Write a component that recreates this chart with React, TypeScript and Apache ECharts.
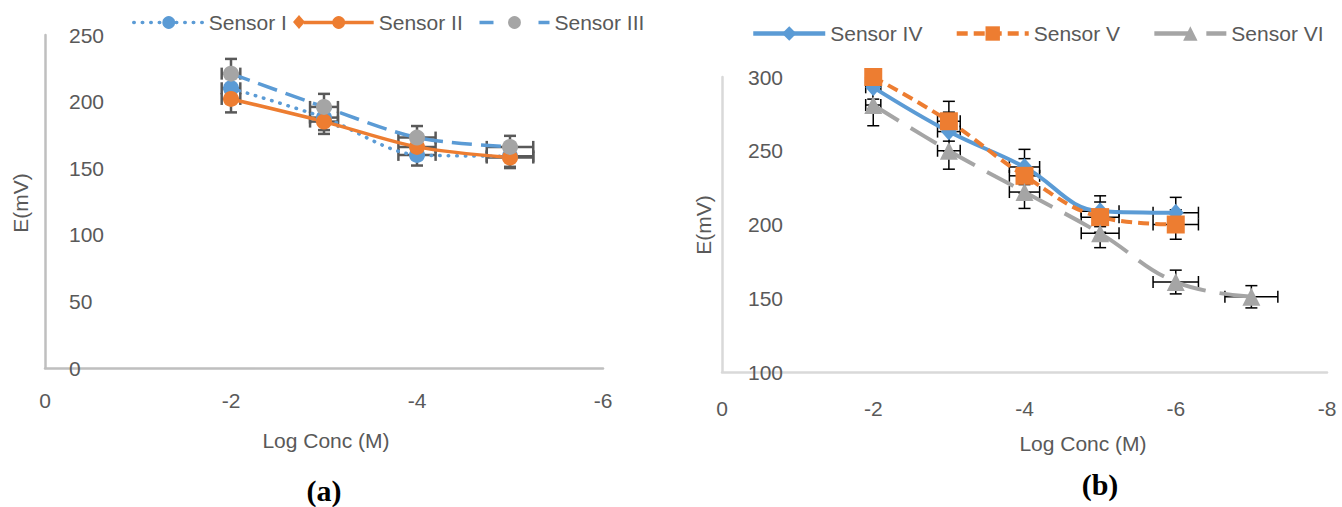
import React, { useEffect, useRef } from "react";
import * as echarts from "echarts";

// ---- Data ----
const xA = [-2, -3, -4, -5];
const sensorI = [210, 188, 160, 159];
const sensorII = [202, 185, 166, 158];
const sensorIII = [221, 196, 173, 166];

const xB = [-2, -3, -4, -5, -6];
const sensorIV = [293, 263, 239, 209, 208];
const sensorV = [300, 270, 233, 205, 200];
const xC = [-2, -3, -4, -5, -6, -7];
const sensorVI = [281, 250, 222, 194, 161, 151];

const ERR_PCT = 0.05; // percentage error bars (x and y)

const xTicksA = { min: -6, max: 0, interval: 2 };
const xTicksB = { min: -8, max: 0, interval: 2 };
const yTicksA = { min: 0, max: 250, interval: 50 };
const yTicksB = { min: 100, max: 300, interval: 50 };

const BLUE = "#5B9BD5";
const ORANGE = "#ED7D31";
const GRAY = "#A5A5A5";
const TXT = "#595959";
const FONT = "Liberation Sans";

const dotted = [0.5, 8];
const longDashA = [20, 9];
const dashV = [11, 6];
const longDashVI = [30, 14];

const pairs = (xs: number[], ys: number[]) => xs.map((x, i) => [x, ys[i]]);
const errData = (xs: number[], ys: number[]) =>
  xs.map((x, i) => [x, ys[i], Math.abs(x) * ERR_PCT, ys[i] * ERR_PCT]);

function errRender(color: string, w: number, cap: number) {
  return (params: any, api: any) => {
    const x = api.value(0), y = api.value(1), ex = api.value(2), ey = api.value(3);
    const c = api.coord([x, y]);
    const t = api.coord([x, y + ey]);
    const b = api.coord([x, y - ey]);
    const l = api.coord([x + ex, y]);
    const r = api.coord([x - ex, y]);
    const style = { stroke: color, lineWidth: w };
    const ln = (x1: number, y1: number, x2: number, y2: number) => ({
      type: "line",
      shape: { x1, y1, x2, y2 },
      style,
    });
    return {
      type: "group",
      children: [
        ln(c[0], t[1], c[0], b[1]),
        ln(c[0] - cap, t[1], c[0] + cap, t[1]),
        ln(c[0] - cap, b[1], c[0] + cap, b[1]),
        ln(l[0], c[1], r[0], c[1]),
        ln(l[0], c[1] - cap, l[0], c[1] + cap),
        ln(r[0], c[1] - cap, r[0], c[1] + cap),
      ],
    };
  };
}

function errSeries(name: string, xs: number[], ys: number[], idx: number, color: string, w: number, cap: number, clip: boolean) {
  return {
    name,
    type: "custom",
    xAxisIndex: idx,
    yAxisIndex: idx,
    data: errData(xs, ys),
    encode: { x: 0, y: 1 },
    renderItem: errRender(color, w, cap),
    clip,
    silent: true,
    z: 1,
  };
}

function xAxis(idx: number, t: any, lineColor: string, margin: number) {
  return {
    type: "value",
    gridIndex: idx,
    inverse: true,
    ...t,
    axisLine: { show: true, onZero: false, lineStyle: { color: lineColor, width: 2.5 } },
    axisTick: { show: false },
    splitLine: { show: false },
    axisLabel: { color: TXT, fontFamily: FONT, fontSize: 21, margin },
  };
}

function yAxis(idx: number, t: any, lineColor: string, margin: number) {
  return {
    type: "value",
    gridIndex: idx,
    ...t,
    axisLine: { show: true, onZero: false, lineStyle: { color: lineColor, width: 2.5 } },
    axisTick: { show: false },
    splitLine: { show: false },
    axisLabel: { inside: true, color: TXT, fontFamily: FONT, fontSize: 21, margin, align: "left" },
  };
}

export default function App() {
  const ref = useRef<HTMLDivElement>(null);
  useEffect(() => {
    if (!ref.current) return;
    const chart = echarts.init(ref.current, undefined, { renderer: "svg" });
    const textStyle = { color: TXT, fontFamily: FONT, fontSize: 21 };
    chart.setOption({
      animation: false,
      backgroundColor: "#fff",
      textStyle: { fontFamily: FONT },
      grid: [
        { left: 45, top: 35, width: 558, height: 333 },
        { left: 722, top: 77, width: 605, height: 295 },
      ],
      xAxis: [xAxis(0, xTicksA, "#BFBFBF", 22), xAxis(1, xTicksB, "#D9D9D9", 26)],
      yAxis: [yAxis(0, yTicksA, "#BFBFBF", 24), yAxis(1, yTicksB, "#D9D9D9", 26)],
      legend: [
        {
          data: [
            { name: "Sensor I", lineStyle: { width: 3.5, type: dotted, cap: "round" } },
            { name: "Sensor II", lineStyle: { width: 3.5 } },
            { name: "Sensor III", lineStyle: { width: 3.5, type: [14, 45] } },
          ],
          left: 127,
          top: 7,
          itemWidth: 70,
          itemHeight: 16,
          itemGap: 15,
          textStyle: { ...textStyle, padding: [0, 0, 0, 0] },
        },
        {
          data: [
            { name: "Sensor IV", lineStyle: { width: 4.5 } },
            { name: "Sensor V", lineStyle: { width: 4.5, type: dashV } },
            { name: "Sensor VI", lineStyle: { width: 4.5, type: [38, 14] } },
          ],
          left: 746,
          top: 18,
          itemWidth: 72,
          itemHeight: 18,
          itemGap: 32,
          textStyle: { ...textStyle, padding: [0, 0, 0, 0] },
        },
      ],
      graphic: [
        { type: "polygon", shape: { points: [[299, 15], [305, 22], [299, 29], [293, 22]] }, style: { fill: ORANGE } },
        { type: "text", x: 20, y: 203, rotation: Math.PI / 2, style: { text: "E(mV)", fill: TXT, font: `21px ${FONT}`, align: "center", verticalAlign: "middle" } },
        { type: "text", x: 703, y: 225, rotation: Math.PI / 2, style: { text: "E(mV)", fill: TXT, font: `21px ${FONT}`, align: "center", verticalAlign: "middle" } },
        { type: "text", x: 326, y: 440, style: { text: "Log Conc (M)", fill: TXT, font: `21px ${FONT}`, align: "center", verticalAlign: "middle" } },
        { type: "text", x: 1083, y: 443, style: { text: "Log Conc (M)", fill: TXT, font: `21px ${FONT}`, align: "center", verticalAlign: "middle" } },
        { type: "text", x: 324, y: 490, style: { text: "(a)", fill: "#000", font: `bold 30px "Liberation Serif"`, align: "center", verticalAlign: "middle" } },
        { type: "text", x: 1100, y: 484, style: { text: "(b)", fill: "#000", font: `bold 30px "Liberation Serif"`, align: "center", verticalAlign: "middle" } },
      ],
      series: [
        errSeries("errI", xA, sensorI, 0, "#595959", 2.5, 6, false),
        errSeries("errII", xA, sensorII, 0, "#595959", 2.5, 6, false),
        errSeries("errIII", xA, sensorIII, 0, "#595959", 2.5, 6, false),
        {
          name: "Sensor I",
          type: "line",
          xAxisIndex: 0,
          yAxisIndex: 0,
          data: pairs(xA, sensorI),
          smooth: 0.3,
          symbol: "circle",
          symbolSize: 16,
          itemStyle: { color: BLUE },
          lineStyle: { color: BLUE, width: 3.5, type: dotted, cap: "round" },
        },
        {
          name: "Sensor II",
          type: "line",
          xAxisIndex: 0,
          yAxisIndex: 0,
          data: pairs(xA, sensorII),
          smooth: 0.3,
          symbol: "circle",
          symbolSize: 16,
          itemStyle: { color: ORANGE },
          lineStyle: { color: ORANGE, width: 3.5 },
        },
        {
          name: "Sensor III",
          type: "line",
          xAxisIndex: 0,
          yAxisIndex: 0,
          data: pairs(xA, sensorIII),
          smooth: 0.3,
          symbol: "circle",
          symbolSize: 16,
          itemStyle: { color: GRAY },
          lineStyle: { color: BLUE, width: 3.5, type: longDashA },
        },
        errSeries("errIV", xB, sensorIV, 1, "#000", 1.5, 6, true),
        errSeries("errV", xB, sensorV, 1, "#000", 1.5, 6, true),
        errSeries("errVI", xC, sensorVI, 1, "#000", 1.5, 6, true),
        {
          name: "Sensor IV",
          type: "line",
          xAxisIndex: 1,
          yAxisIndex: 1,
          data: pairs(xB, sensorIV),
          smooth: 0.4,
          symbol: "diamond",
          symbolSize: [16, 18],
          itemStyle: { color: BLUE },
          lineStyle: { color: BLUE, width: 4 },
        },
        {
          name: "Sensor V",
          type: "line",
          xAxisIndex: 1,
          yAxisIndex: 1,
          data: pairs(xB, sensorV),
          smooth: 0.4,
          symbol: "rect",
          symbolSize: 18,
          itemStyle: { color: ORANGE },
          lineStyle: { color: ORANGE, width: 4, type: dashV },
        },
        {
          name: "Sensor VI",
          type: "line",
          xAxisIndex: 1,
          yAxisIndex: 1,
          data: pairs(xC, sensorVI),
          smooth: 0.4,
          symbol: "triangle",
          symbolSize: 18,
          itemStyle: { color: GRAY },
          lineStyle: { color: GRAY, width: 4, type: longDashVI },
        },
      ],
    });
    return () => chart.dispose();
  }, []);
  return (
    <div
      ref={ref}
      style={{ position: "fixed", left: 0, top: 0, width: 1342, height: 507, background: "#fff" }}
    />
  );
}
